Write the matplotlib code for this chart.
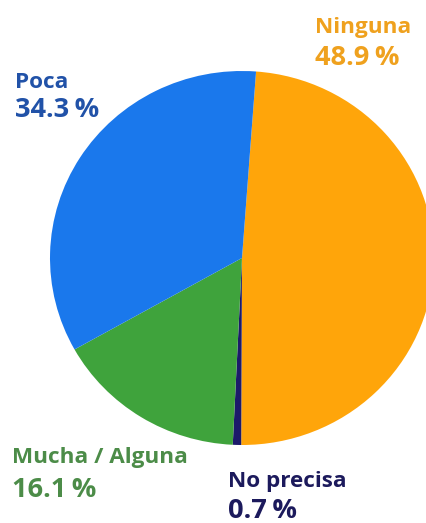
import matplotlib.pyplot as plt

# data (clockwise from top)
labels = ['Ninguna', 'No precisa', 'Mucha / Alguna', 'Poca']
values = [48.9, 0.7, 16.1, 34.3]
slice_colors = ['#FFA50A', '#1C1A6A', '#3FA33C', '#1A78EC']
text_colors = ['#EFA11E', '#1C1A5C', '#4C8C48', '#2152A8']

W, H = 426, 523
plt.rcParams['font.family'] = ['Open Sans', 'DejaVu Sans']

fig = plt.figure(figsize=(W / 100, H / 100), dpi=100)

# pie area in pixels: centre (242, 258), rx 192, ry 187
cx, cy, rx, ry = 242, 258, 192, 187
ax = fig.add_axes([(cx - rx) / W, (H - cy - ry) / H, 2 * rx / W, 2 * ry / H])
ax.pie(values, colors=slice_colors, startangle=85.8, counterclock=False,
       radius=1, wedgeprops=dict(linewidth=0))
ax.set_aspect('auto')
ax.set_xlim(-1, 1)
ax.set_ylim(-1, 1)
ax.axis('off')

# label anchors (left x, baseline of name, baseline of percentage) in pixels
label_pos = {
    'Ninguna': (315, 33, 65),
    'No precisa': (228, 487, 518),
    'Mucha / Alguna': (12, 463, 497),
    'Poca': (15, 88, 117),
}

for lab, val, col in zip(labels, values, text_colors):
    x, y1, y2 = label_pos[lab]
    fig.text(x / W, 1 - y1 / H, lab, color=col, fontsize=16.2,
             fontweight='bold', va='baseline', ha='left')
    fig.text(x / W, 1 - y2 / H, f'{val:.1f}\u2009%', color=col, fontsize=19.6,
             fontweight='bold', va='baseline', ha='left')

fig.savefig('out.png', dpi=100)
